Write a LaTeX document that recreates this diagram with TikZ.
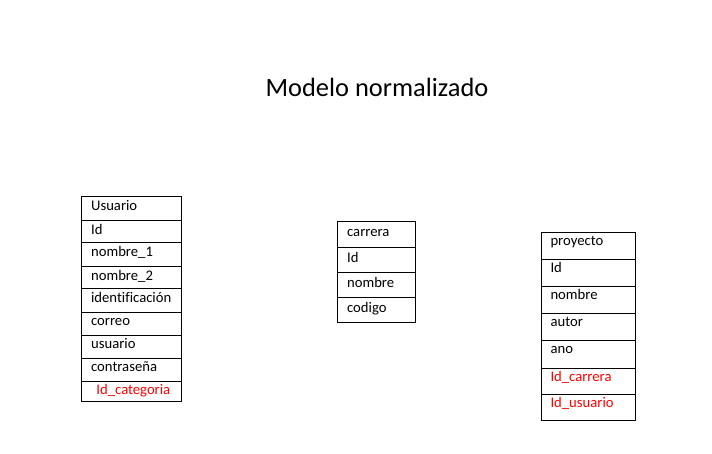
\documentclass[tikz,border=0pt]{standalone}
\usepackage{fontspec}
\setmainfont{Carlito}[Ligatures=NoCommon]
\begin{document}
\begin{tikzpicture}[x=0.75pt,y=-0.75pt,
  cell/.style={draw=black, line width=0.75pt, anchor=north west, inner xsep=0pt, inner ysep=0pt,
    align=left, font=\fontsize{11}{13}\selectfont, execute at begin node={\hspace*{7pt}}},
  tone/.style={text width=75pt, text height=10.275pt},
  ttwo/.style={text width=58.5pt, text height=11.1pt},
  tthree/.style={text width=70.95pt, text height=9.75pt},
  fk/.style={text=red},
  title/.style={font=\fontsize{19.8}{24}\selectfont, anchor=base, inner sep=0pt}]
\useasboundingbox[fill=white] (0,0) rectangle (712,453);
\node[title] (title) at (377,96.7) {Modelo normalizado};
% Usuario
\node[cell,tone,text depth=7.725pt] (u0) at (81.3,196) {Usuario};
\node[cell,tone,text depth=6.45pt] (u1) at (81.3,220) {Id};
\node[cell,tone,text depth=7.5pt] (u2) at (81.3,242.3) {nombre\_1};
\node[cell,tone,text depth=6.45pt] (u3) at (81.3,266) {nombre\_2};
\node[cell,tone,text depth=7.275pt] (u4) at (81.3,288.3) {identificación};
\node[cell,tone,text depth=6.975pt] (u5) at (81.3,311.7) {correo};
\node[cell,tone,text depth=6.975pt] (u6) at (81.3,334.7) {usuario};
\node[cell,tone,text depth=6.975pt] (u7) at (81.3,357.7) {contraseña};
\node[cell,tone,fk,text depth=5.175pt] (u8) at (81.3,380.7) {\hspace*{4pt}Id\_categoria};
% carrera
\node[cell,ttwo,text depth=8.175pt] (c0) at (337.3,221) {carrera};
\node[cell,ttwo,text depth=7.65pt] (c1) at (337.3,246.7) {Id};
\node[cell,ttwo,text depth=7.65pt] (c2) at (337.3,271.7) {nombre};
\node[cell,ttwo,text depth=8.1pt] (c3) at (337.3,296.7) {codigo};
% proyecto
\node[cell,tthree,text depth=10.95pt] (p0) at (540.7,231.7) {proyecto};
\node[cell,tthree,text depth=10.05pt] (p1) at (540.7,259.3) {Id};
\node[cell,tthree,text depth=10.95pt] (p2) at (540.7,285.7) {nombre};
\node[cell,tthree,text depth=10.275pt] (p3) at (540.7,313.3) {autor};
\node[cell,tthree,text depth=11.025pt] (p4) at (540.7,340) {ano};
\node[cell,tthree,fk,text depth=10.2pt] (p5) at (540.7,367.7) {Id\_carrera};
\node[cell,tthree,fk,text depth=9.525pt] (p6) at (540.7,394.3) {Id\_usuario};
\end{tikzpicture}
\end{document}
